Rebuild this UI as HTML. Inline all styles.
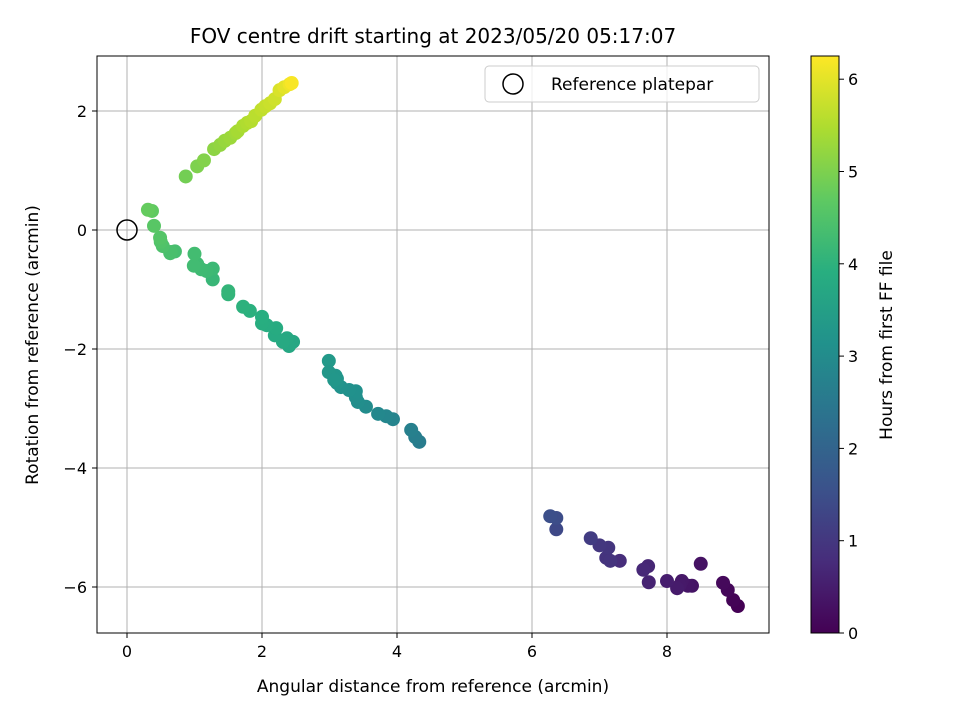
<!DOCTYPE html>
<html><head><meta charset="utf-8"><style>
body{margin:0;background:#fff}
svg text{font-family:"DejaVu Sans","Liberation Sans",sans-serif;fill:#000}
</style></head><body>
<svg id="chart" width="960" height="720" xmlns="http://www.w3.org/2000/svg">
<defs>
<linearGradient id="vir" x1="0" y1="1" x2="0" y2="0">
<stop offset="0" stop-color="#440154"/><stop offset="0.125" stop-color="#472d7b"/><stop offset="0.25" stop-color="#3b528b"/><stop offset="0.375" stop-color="#2c728e"/><stop offset="0.5" stop-color="#21918c"/><stop offset="0.625" stop-color="#28ae80"/><stop offset="0.75" stop-color="#5ec962"/><stop offset="0.875" stop-color="#addc30"/><stop offset="1" stop-color="#fde725"/>
</linearGradient>
<clipPath id="clip"><rect x="97" y="56" width="672" height="577"/></clipPath>
</defs>
<g id="grid"></g>
<g id="pts" clip-path="url(#clip)"></g>
<rect x="97" y="56" width="672" height="577" fill="none" stroke="#000" stroke-width="1"/>
<g id="ticks"></g>
<text x="433" y="43" font-size="20" text-anchor="middle">FOV centre drift starting at 2023/05/20 05:17:07</text>
<text x="433" y="692" font-size="17" text-anchor="middle">Angular distance from reference (arcmin)</text>
<text x="38" y="345" font-size="17" text-anchor="middle" transform="rotate(-90 38 345)">Rotation from reference (arcmin)</text>
<g>
<rect x="485" y="66" width="274" height="36" rx="4" fill="#fff" fill-opacity="0.8" stroke="#ccc"/>
<circle cx="513" cy="84" r="10" fill="none" stroke="#000" stroke-width="1.5"/>
<text x="551" y="90" font-size="17">Reference platepar</text>
</g>
<rect x="811" y="56" width="28" height="577" fill="url(#vir)" stroke="#000"/>
<g id="cbticks"></g>
<text x="892" y="345" font-size="17" text-anchor="middle" transform="rotate(-90 892 345)">Hours from first FF file</text>
</svg>
<script>
const xs=[9.05,8.98,8.9,8.83,8.5,8.37,8.31,8.22,8.19,8.15,8.0,7.73,7.72,7.65,7.3,7.1,7.13,7.16,7.0,6.87,6.36,6.36,6.27,
4.33,4.27,4.21,3.94,3.84,3.72,3.54,3.42,3.39,3.39,3.29,3.17,3.11,3.11,3.09,2.99,2.99,3.07,
2.46,2.4,2.37,2.31,2.19,2.21,2.07,2.0,2.0,1.82,1.72,1.5,1.5,1.27,1.27,1.18,1.1,1.04,0.99,1.0,0.71,0.64,0.65,0.53,0.50,0.49,0.40,0.37,0.31,
0.87,1.04,1.14,1.29,1.38,1.45,1.53,1.61,1.64,1.72,1.78,1.84,1.9,1.99,2.05,2.12,2.19,2.26,2.33,2.41,2.44];
const ys=[-6.32,-6.22,-6.05,-5.93,-5.61,-5.98,-5.98,-5.9,-5.97,-6.02,-5.9,-5.92,-5.65,-5.71,-5.56,-5.51,-5.34,-5.56,-5.3,-5.18,-5.03,-4.84,-4.81,
-3.56,-3.48,-3.36,-3.18,-3.13,-3.09,-2.97,-2.89,-2.81,-2.71,-2.69,-2.64,-2.57,-2.5,-2.45,-2.2,-2.39,-2.52,
-1.88,-1.95,-1.82,-1.88,-1.77,-1.65,-1.6,-1.57,-1.46,-1.36,-1.29,-1.08,-1.03,-0.83,-0.65,-0.69,-0.66,-0.57,-0.6,-0.4,-0.36,-0.39,-0.37,-0.27,-0.2,-0.13,0.07,0.32,0.34,
0.9,1.07,1.17,1.36,1.43,1.5,1.55,1.63,1.66,1.75,1.8,1.83,1.92,2.02,2.08,2.13,2.2,2.35,2.4,2.45,2.47];
const hs=[0,0.05,0.1,0.15,0.3,0.33,0.36,0.4,0.43,0.46,0.5,0.6,0.65,0.7,0.8,0.9,0.95,0.92,1.0,1.1,1.35,1.45,1.5,
2.6,2.65,2.7,2.8,2.85,2.9,3.0,3.05,3.08,3.1,3.12,3.15,3.2,3.22,3.25,3.35,3.3,3.28,
3.7,3.72,3.75,3.78,3.8,3.83,3.86,3.88,3.9,3.95,3.98,4.05,4.08,4.15,4.2,4.22,4.24,4.26,4.28,4.3,4.35,4.38,4.4,4.45,4.5,4.55,4.6,4.7,4.75,
4.9,5.0,5.05,5.15,5.2,5.25,5.3,5.35,5.4,5.45,5.5,5.55,5.6,5.65,5.7,5.75,5.8,5.9,6.0,6.1,6.2];
const xTicks=[0,2,4,6,8], yTicks=[2,0,-2,-4,-6], cTicks=[0,1,2,3,4,5,6];
const X=v=>127+v*67.5, Y=v=>230-v*59.5, C=v=>633-v*92.3;
const vir=["#440154","#472d7b","#3b528b","#2c728e","#21918c","#28ae80","#5ec962","#addc30","#fde725"];
function col(h){let t=Math.max(0,Math.min(1,h/6.25))*8,i=Math.min(7,Math.floor(t)),f=t-i;
const a=vir[i],b=vir[i+1],p=(s,k)=>parseInt(s.substr(k,2),16);
let r=[1,3,5].map(k=>Math.round(p(a,k)+(p(b,k)-p(a,k))*f));return `rgb(${r})`;}
const NS="http://www.w3.org/2000/svg";
function mk(par,tag,at){const e=document.createElementNS(NS,tag);for(const k in at)e.setAttribute(k,at[k]);document.getElementById(par).appendChild(e);return e;}
xTicks.forEach(v=>{let g=mk('grid','line',{x1:X(v),x2:X(v),y1:56,y2:633,stroke:'#b0b0b0','stroke-width':1});

let t=mk('ticks','line',{x1:X(v),x2:X(v),y1:633,y2:638,stroke:'#000'});

let l=mk('ticks','text',{x:X(v),y:657,'font-size':16,'text-anchor':'middle'});l.textContent=v;
});
yTicks.forEach(v=>{let g=mk('grid','line',{x1:97,x2:769,y1:Y(v),y2:Y(v),stroke:'#b0b0b0','stroke-width':1});

let t=mk('ticks','line',{x1:92,x2:97,y1:Y(v),y2:Y(v),stroke:'#000'});

let l=mk('ticks','text',{x:87,y:Y(v)+6,'font-size':16,'text-anchor':'end'});l.textContent=v<0?'\u2212'+(-v):v;
});
cTicks.forEach(v=>{let t=mk('cbticks','line',{x1:839,x2:844,y1:C(v),y2:C(v),stroke:'#000'});

let l=mk('cbticks','text',{x:848,y:C(v)+6,'font-size':16});l.textContent=v;
});
xs.forEach((v,i)=>{let c=mk('pts','circle',{cx:X(v),cy:Y(ys[i]),r:7,fill:col(hs[i])});
});
let ref=mk('pts','circle',{cx:X(0),cy:Y(0),r:10,fill:'none',stroke:'#000','stroke-width':1.5});

</script>
</body></html>
